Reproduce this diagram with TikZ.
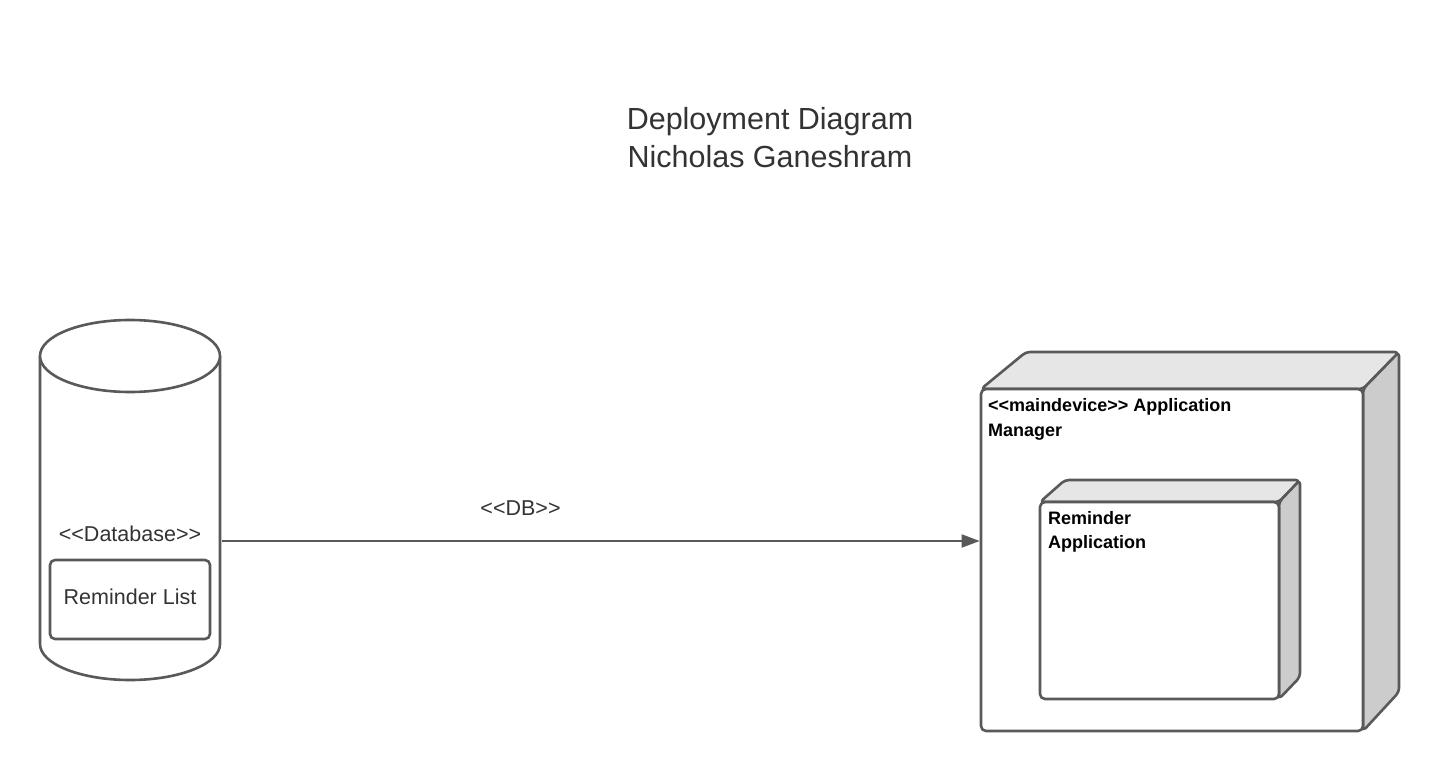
\documentclass[tikz,border=0pt]{standalone}
\usepackage{fontspec}
\setmainfont{Liberation Sans}[Ligatures=TeXOff]
\usetikzlibrary{arrows.meta}
\definecolor{edge}{HTML}{595959}
\definecolor{txt}{HTML}{333333}
\definecolor{topface}{HTML}{E6E6E6}
\definecolor{sideface}{HTML}{CCCCCC}
\begin{document}
\begin{tikzpicture}[x=1pt,y=-1pt,
  shapeline/.style={draw=edge,line width=2.6pt,line join=round},
  normtext/.style={text=txt,inner sep=0pt,font=\fontsize{21.5}{26}\selectfont},
  boldtext/.style={text=black,inner sep=0pt,anchor=west,align=left,font=\bfseries\fontsize{18}{24.5}\selectfont},
  conn/.style={draw=edge,line width=1.8pt,-{Triangle[length=18pt,width=13pt]}}]
\useasboundingbox (0,0) rectangle (1440,771);
\fill[white] (0,0) rectangle (1440,771);

% title
\node[text=txt,align=center,font=\fontsize{30.5}{38}\selectfont] (title) at (770,138) {Deployment Diagram\\Nicholas Ganeshram};

% database cylinder
\draw[shapeline,fill=white] (40,356) -- (40,644) arc[start angle=180,end angle=0,x radius=90,y radius=36] -- (220,356);
\draw[shapeline,fill=white] (130,356) ellipse [x radius=90,y radius=36];
\node[inner sep=0pt,minimum width=180pt,minimum height=360pt] (db) at (130,500) {};
\node[normtext] (dblabel) at (130,534) {<<Database>>};
\node[shapeline,rounded corners=5pt,minimum width=160pt,minimum height=79pt,inner sep=0pt] (rlist) at (130,599.5) {};
\node[normtext] (rlisttext) at (130,597) {Reminder List};

% application manager node
\filldraw[shapeline,fill=topface,rounded corners=4pt] (981,389) -- (1026,352) -- (1399,352) -- (1363,389) -- cycle;
\filldraw[shapeline,fill=sideface,rounded corners=4pt] (1363,389) -- (1399,352) -- (1399,692) -- (1363,731) -- cycle;
\node[shapeline,fill=white,rounded corners=5pt,minimum width=382pt,minimum height=342pt,inner sep=0pt] (am) at (1172,560) {};
\node[boldtext] (amlabel) at (988,419.5) {<<maindevice>> Application\\Manager};

% reminder application node
\filldraw[shapeline,fill=topface,rounded corners=4pt] (1040,502) -- (1065,480) -- (1300,480) -- (1279,502) -- cycle;
\filldraw[shapeline,fill=sideface,rounded corners=4pt] (1279,502) -- (1300,480) -- (1300,677) -- (1279,699) -- cycle;
\node[shapeline,fill=white,rounded corners=5pt,minimum width=239pt,minimum height=197pt,inner sep=0pt] (ra) at (1159.5,600.5) {};
\node[boldtext] (ralabel) at (1048,532) {Reminder\\Application};

% connector
\coordinate (dbR) at (222,541);
\draw[conn] (dbR) -- (am.west |- dbR) node[pos=0.394,yshift=33pt,normtext] (dblink) {<<DB>>};
\end{tikzpicture}
\end{document}
